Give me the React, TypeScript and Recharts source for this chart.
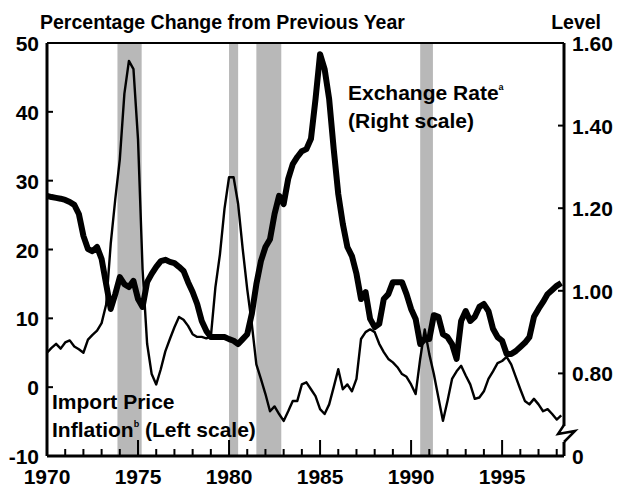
import React from "react";
import { LineChart, Line, XAxis, YAxis, ReferenceArea, ReferenceLine } from "recharts";

const FONT = "'Liberation Sans', Arial, Helvetica, sans-serif";

// quarterly observations, 1970:Q1 .. 1998:Q2
const quarters = Array.from({ length: 114 }, (_, i) => 1970 + i / 4);

// percent change from previous year (left scale)
const importPriceInflation = [
  5.0, 5.7, 6.3, 5.6, 6.5, 6.8, 5.9, 5.5, 5.0, 6.9,
  7.6, 8.2, 9.3, 12.0, 20.8, 27.3, 33.1, 42.6, 47.4, 46.2,
  36.0, 17.1, 6.3, 1.9, 0.4, 2.6, 5.2, 7.0, 8.7, 10.2,
  9.8, 8.9, 7.7, 7.3, 7.3, 7.1, 7.3, 14.5, 19.3, 25.9,
  30.5, 30.5, 26.6, 20.1, 14.2, 9.2, 3.3, 1.2, -1.0, -3.5,
  -2.8, -3.9, -4.9, -3.5, -2.0, -2.0, 0.4, 0.7, -0.3, -1.3,
  -3.2, -3.9, -2.5, 0.0, 2.6, -0.3, 0.4, -0.6, 1.2, 7.0,
  8.0, 8.4, 8.0, 6.3, 5.1, 4.1, 3.6, 2.9, 1.9, 1.5,
  0.4, -1.0, 4.1, 8.4, 4.8, 1.9, -1.5, -4.9, -2.0, 1.2,
  2.3, 3.1, 1.7, 0.4, -1.7, -1.5, -0.6, 1.2, 2.3, 3.5,
  3.8, 4.4, 3.3, 1.5, -0.3, -2.0, -2.5, -1.7, -2.5, -3.5,
  -3.2, -3.9, -4.7, -4.1,
];

// exchange rate level (right scale)
const exchangeRate = [
  1.230, 1.227, 1.225, 1.223, 1.220, 1.215, 1.208, 1.186, 1.133, 1.101,
  1.096, 1.106, 1.077, 1.016, 0.956, 0.992, 1.033, 1.016, 1.009, 1.024,
  0.980, 0.961, 1.021, 1.041, 1.058, 1.072, 1.075, 1.070, 1.067, 1.058,
  1.048, 1.021, 0.997, 0.968, 0.927, 0.903, 0.888, 0.888, 0.888, 0.888,
  0.883, 0.879, 0.871, 0.883, 0.895, 0.944, 1.016, 1.072, 1.106, 1.125,
  1.186, 1.230, 1.210, 1.271, 1.307, 1.324, 1.338, 1.343, 1.368, 1.464,
  1.573, 1.537, 1.464, 1.343, 1.234, 1.162, 1.106, 1.084, 1.041, 0.980,
  0.997, 0.932, 0.912, 0.920, 0.980, 0.992, 1.021, 1.021, 1.021, 0.992,
  0.956, 0.932, 0.871, 0.883, 0.883, 0.941, 0.937, 0.895, 0.888, 0.871,
  0.835, 0.927, 0.951, 0.927, 0.937, 0.961, 0.968, 0.951, 0.908, 0.888,
  0.879, 0.847, 0.847, 0.854, 0.864, 0.874, 0.888, 0.937, 0.956, 0.973,
  0.992, 1.002, 1.012, 1.019,
];

const recessionStarts = [1973.87, 1980.0, 1981.5, 1990.5];
const recessionEnds = [1975.2, 1980.5, 1982.87, 1991.2];

const yearTicks = Array.from({ length: 29 }, (_, i) => 1970 + i);
const leftTicks = [-10, 0, 10, 20, 30, 40, 50];
const rightTicks = [0.6, 0.8, 1.0, 1.2, 1.4, 1.6];

const data = quarters.map((q, i) => ({
  q,
  imp: importPriceInflation[i],
  fx: exchangeRate[i],
}));

const labelStyle = { fontFamily: FONT, fontWeight: "bold" as const, fontSize: 21, fill: "#000" };

const BottomTick = ({ x, y, payload }: any) => {
  const yr = payload.value;
  const major = yr % 5 === 0;
  return (
    <g>
      {yr > 1970 && (
        <line x1={x} x2={x} y1={y} y2={y - (major ? 16 : 7)} stroke="#000" strokeWidth={2} />
      )}
      {major && (
        <text x={x} y={y + 28} textAnchor="middle" {...labelStyle}>
          {yr}
        </text>
      )}
    </g>
  );
};

const LeftTick = ({ x, y, payload }: any) => {
  const v = payload.value;
  return (
    <g>
      {v > -10 && v < 50 && <line x1={x} x2={x + 6} y1={y} y2={y} stroke="#000" strokeWidth={2} />}
      <text x={x - 8} y={y + 8} textAnchor="end" {...labelStyle}>
        {v}
      </text>
    </g>
  );
};

const RightTick = ({ x, y, payload }: any) => {
  const v = payload.value;
  if (v === 0.6) {
    // axis break just above the bottom
    return (
      <g>
        <rect x={x - 4} y={y - 30} width={8} height={16} fill="#fff" />
        <polyline
          points={`${x},${y - 31} ${x - 6},${y - 22} ${x + 11},${y - 25} ${x},${y - 14}`}
          fill="none"
          stroke="#000"
          strokeWidth={2.5}
        />
        <text x={x + 8} y={y + 8} textAnchor="start" {...labelStyle}>
          0
        </text>
      </g>
    );
  }
  return (
    <g>
      {v < 1.6 && <line x1={x} x2={x - 6} y1={y} y2={y} stroke="#000" strokeWidth={2} />}
      <text x={x + 8} y={y + 8} textAnchor="start" {...labelStyle}>
        {v.toFixed(2)}
      </text>
    </g>
  );
};

export default function App() {
  return (
    <div style={{ position: "absolute", left: 0, top: 0, width: 622, height: 487, background: "#fff" }}>
      <LineChart width={622} height={487} data={data} margin={{ top: 43, right: 0, bottom: 0, left: 0 }}>
        {recessionStarts.map((s, i) => (
          <ReferenceArea
            key={i}
            yAxisId="left"
            x1={s}
            x2={recessionEnds[i]}
            y1={-10}
            y2={50}
            fill="#b8b8b8"
            fillOpacity={1}
            stroke="none"
          />
        ))}
        <XAxis
          dataKey="q"
          type="number"
          domain={[1970, 1998.4]}
          ticks={yearTicks}
          interval={0}
          height={31}
          tickSize={0}
          tickMargin={0}
          tickLine={false}
          tick={(p: any) => <BottomTick {...p} />}
          axisLine={{ stroke: "#000", strokeWidth: 3 }}
          allowDataOverflow
        />
        <YAxis
          yAxisId="left"
          domain={[-10, 50]}
          ticks={leftTicks}
          interval={0}
          width={47}
          tickSize={0}
          tickMargin={0}
          tickLine={false}
          tick={(p: any) => <LeftTick {...p} />}
          axisLine={{ stroke: "#000", strokeWidth: 3 }}
        />
        <YAxis
          yAxisId="right"
          orientation="right"
          domain={[0.6, 1.6]}
          ticks={rightTicks}
          interval={0}
          width={58}
          tickSize={0}
          tickMargin={0}
          tickLine={false}
          tick={(p: any) => <RightTick {...p} />}
          axisLine={{ stroke: "#000", strokeWidth: 3 }}
        />
        <ReferenceLine yAxisId="left" y={50} stroke="#000" strokeWidth={2} />
        <Line
          yAxisId="left"
          dataKey="imp"
          type="linear"
          stroke="#000"
          strokeWidth={2.4}
          strokeLinejoin="round"
          dot={false}
          isAnimationActive={false}
        />
        <Line
          yAxisId="right"
          dataKey="fx"
          type="linear"
          stroke="#000"
          strokeWidth={6}
          strokeLinejoin="round"
          dot={false}
          isAnimationActive={false}
        />
      </LineChart>
      <svg
        width={622}
        height={487}
        style={{ position: "absolute", left: 0, top: 0, pointerEvents: "none" }}
      >
        <text x={40} y={29} {...labelStyle} fontSize={19.5}>
          Percentage Change from Previous Year
        </text>
        <text x={601} y={29} textAnchor="end" {...labelStyle} fontSize={19.5}>
          Level
        </text>
        <text x={348} y={100} {...labelStyle}>
          Exchange Rate
          <tspan dy={-10} fontSize={9}>a</tspan>
        </text>
        <text x={348} y={128} {...labelStyle}>
          (Right scale)
        </text>
        <text x={52} y={409} {...labelStyle}>
          Import Price
        </text>
        <text x={52} y={437} {...labelStyle}>
          Inflation
          <tspan dy={-10} fontSize={9}>b</tspan>
          <tspan dy={10}> (Left scale)</tspan>
        </text>
      </svg>
    </div>
  );
}
